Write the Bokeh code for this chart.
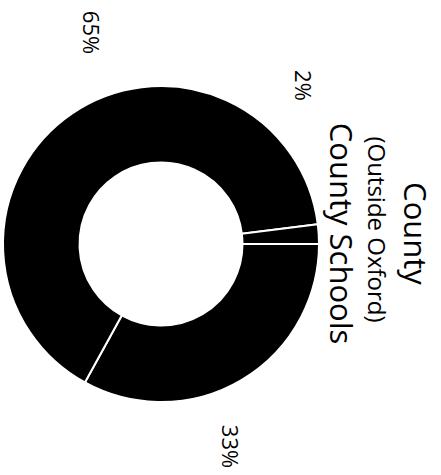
import math
from bokeh.plotting import figure
from bokeh.models import Range1d, ColumnDataSource
from bokeh.core.properties import value
from bokeh.embed import file_html
from bokeh.resources import INLINE

# ---- data ----
slice_names = ["County Schools 33%", "County Schools 65%", "County Schools 2%"]
slice_values = [33, 65, 2]
pct_labels = ["33%", "65%", "2%"]
title_lines = ["County", "(Outside Oxford)", "County Schools"]

# ---- layout (page pixel frame; y measured upward from page bottom) ----
W, H = 441, 475
cx, cy = 160.5, H - 243.5
r_outer, r_inner = 158, 81.5
label_pos = [(230, H - 446), (91, H - 32), (303, H - 85)]
title_pos = [(415, H - 233), (377, H - 229), (341, H - 233)]
title_sizes = ["31px", "24px", "31px"]

p = figure(width=W, height=H, output_backend="svg", toolbar_location=None,
           x_range=Range1d(0, W), y_range=Range1d(0, H), min_border=0)
p.axis.visible = False
p.grid.visible = False
p.outline_line_color = None
p.background_fill_color = "white"
p.border_fill_color = "white"

total = float(sum(slice_values))
starts, ends = [], []
acc = 0.0
for v in slice_values:
    starts.append(-2 * math.pi * acc / total)
    acc += v
    ends.append(-2 * math.pi * acc / total)

src = ColumnDataSource(dict(name=slice_names, value=slice_values, start=starts, end=ends,
                            x=[cx] * len(slice_values), y=[cy] * len(slice_values)))
p.annular_wedge(x="x", y="y", inner_radius=r_inner, outer_radius=r_outer,
                start_angle="start", end_angle="end", direction="clock",
                fill_color="black", line_color="white", line_width=2, source=src)

lsrc = ColumnDataSource(dict(x=[q[0] for q in label_pos], y=[q[1] for q in label_pos], t=pct_labels))
p.text(x="x", y="y", text="t", source=lsrc, angle=-math.pi / 2,
       text_align="center", text_baseline="middle", text_font=value("Open Sans"),
       text_font_size="22px", text_color="black")

for (tx, ty), t, fs in zip(title_pos, title_lines, title_sizes):
    p.text(x=[tx], y=[ty], text=[t], angle=-math.pi / 2,
           text_align="center", text_baseline="middle", text_font=value("Open Sans"),
           text_font_size=fs, text_color="black")

open("out.html", "w").write(file_html(p, INLINE))
